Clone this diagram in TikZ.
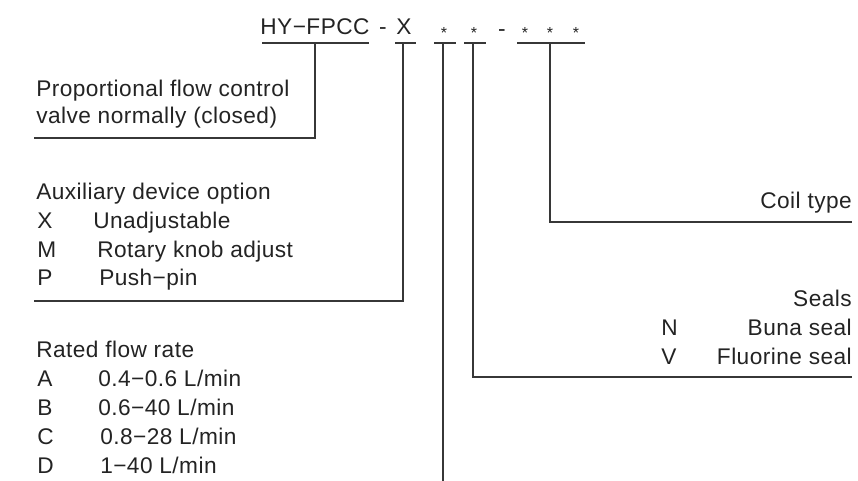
\documentclass[tikz,border=0pt]{standalone}
\usepackage{fontspec}
\setmainfont[LetterSpace=2]{Liberation Sans}
\usetikzlibrary{positioning}
\usetikzlibrary{calc}
\definecolor{textgray}{RGB}{35,35,35}
\definecolor{linegray}{RGB}{55,55,55}
\tikzset{
    code/.style={anchor=base, inner sep=0pt},
    codestar/.style={anchor=base, inner sep=0pt, font=\fontsize{12}{12}\selectfont},
    lbl/.style={anchor=base west, inner sep=0pt},
    rlbl/.style={anchor=base east, inner sep=0pt},
    lead/.style={draw=linegray, line width=1.2pt}
}

\begin{document}
\begin{tikzpicture}[x=0.75pt, y=-0.75pt, every node/.style={text=textgray, font=\fontsize{17}{20}\selectfont}]
        \useasboundingbox (0,0) rectangle (858,481);

        \node[code] (model) at (315,35) {HY−FPCC};
        \node[code] (dashA) at (383,35) {-};
        \node[code] (aux) at (404,35) {X};
        \node[codestar] (flow) at (444,39) {*};
        \node[codestar] (seal) at (474,39) {*};
        \node[code] (dashB) at (502,37) {-};
        \foreach \x/\n in {525/coilA, 550/coilB, 576/coilC}
            \node[codestar] (\n) at (\x,39) {*};

        \draw[lead] (262,43) -- (369,43);
        \draw[lead] (395,43) -- (416,43);
        \draw[lead] (434,43) -- (456,43);
        \draw[lead] (464,43) -- (486,43);
        \draw[lead] (517,43) -- (585,43);

        \node[lbl] (propA) at (36,97) {Proportional flow control};
        \node[lbl] (propB) at (36,124) {valve normally (closed)};

        \node[lbl] (auxT) at (36,200) {Auxiliary device option};
        \node[lbl] (auxX) at (37,229) {X};
        \node[lbl] (auxXt) at (93,229) {Unadjustable};
        \node[lbl] (auxM) at (37,258) {M};
        \node[lbl] (auxMt) at (97,258) {Rotary knob adjust};
        \node[lbl] (auxP) at (37,286) {P};
        \node[lbl] (auxPt) at (99,286) {Push−pin};

        \node[lbl] (flowT) at (36,358) {Rated flow rate};
        \node[lbl] (flowA) at (37,387) {A};
        \node[lbl] (flowAt) at (98,387) {0.4−0.6 L/min};
        \node[lbl] (flowB) at (37,416) {B};
        \node[lbl] (flowBt) at (98,416) {0.6−40 L/min};
        \node[lbl] (flowC) at (37,445) {C};
        \node[lbl] (flowCt) at (100,445) {0.8−28 L/min};
        \node[lbl] (flowD) at (37,473) {D};
        \node[lbl] (flowDt) at (100,473) {1−40 L/min};

        \node[rlbl] (coilT) at (852,209) {Coil type};

        \node[rlbl] (sealT) at (852,307) {Seals};
        \node[lbl] (sealN) at (661,336) {N};
        \node[rlbl] (sealNt) at (852,336) {Buna seal};
        \node[lbl] (sealV) at (661,364) {V};
        \node[rlbl] (sealVt) at (852,364) {Fluorine seal};

        \coordinate (modelbar) at (315,43);
        \coordinate (auxbar) at (403,43);
        \coordinate (flowbar) at (443,43);
        \coordinate (sealbar) at (473,43);
        \coordinate (coilbar) at (550,43);
        \coordinate (modelend) at (34,138);
        \coordinate (auxend) at (34,301);
        \coordinate (flowend) at (443,481);
        \coordinate (sealend) at (852,377);
        \coordinate (coilend) at (852,222);

        \draw[lead] (modelbar) |- (modelend);
        \draw[lead] (auxbar) |- (auxend);
        \draw[lead] (flowbar) -- (flowend);
        \draw[lead] (sealbar) |- (sealend);
        \draw[lead] (coilbar) |- (coilend);
\end{tikzpicture}
\end{document}
